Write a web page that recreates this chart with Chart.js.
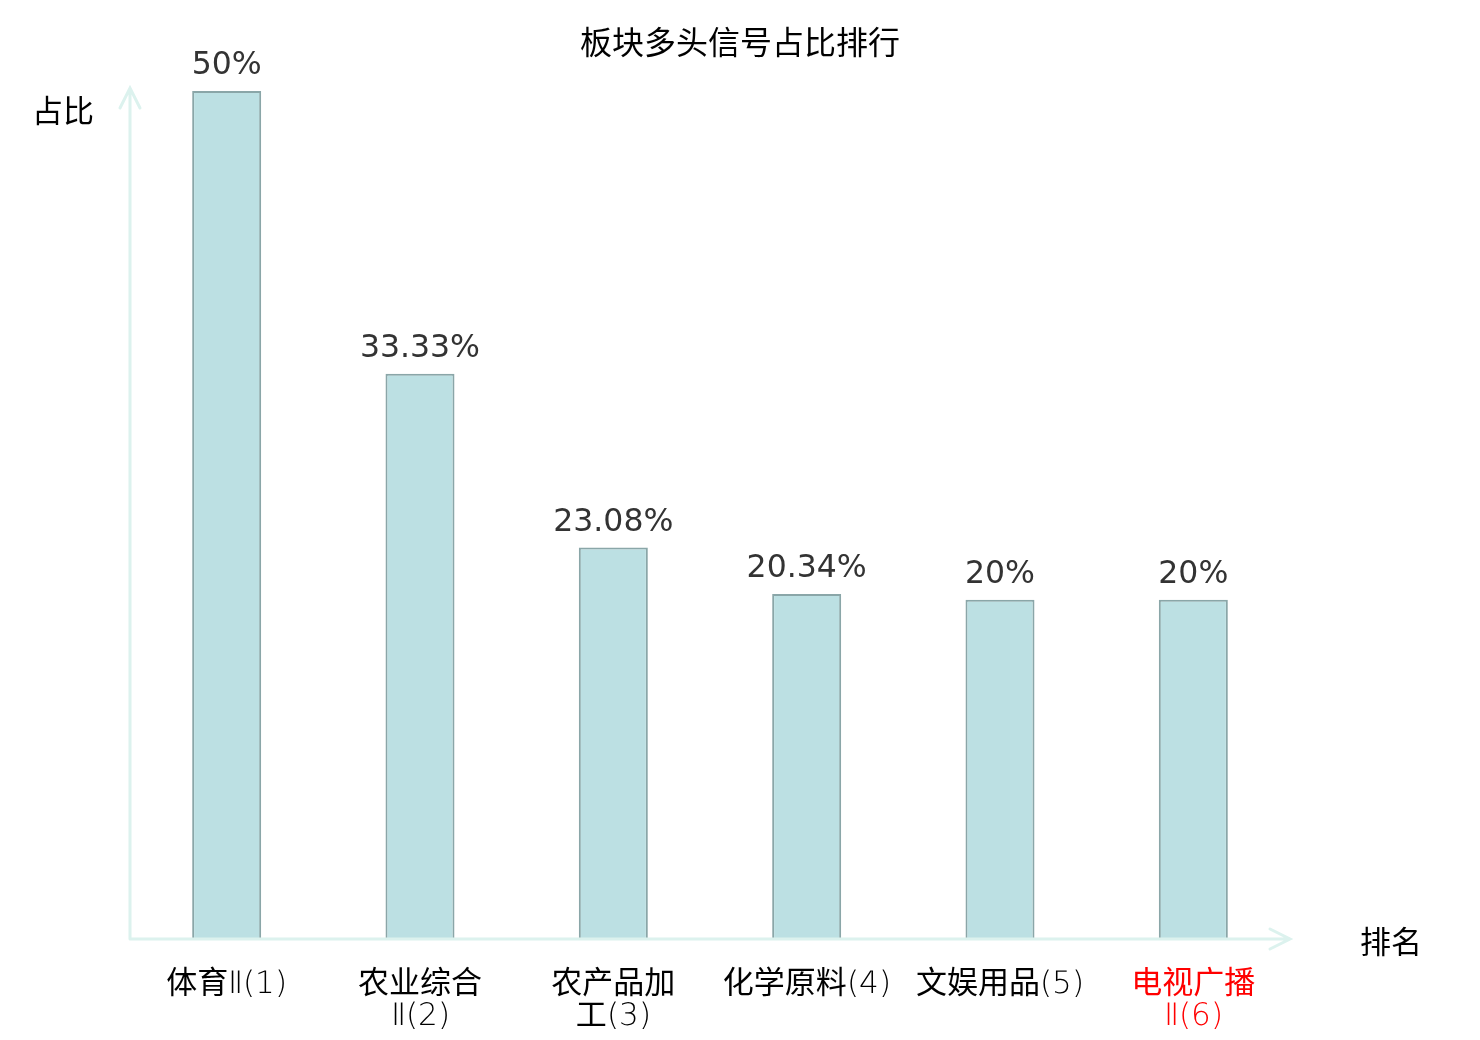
<!DOCTYPE html>
<html>
<head>
<meta charset="utf-8">
<script src="https://cdn.jsdelivr.net/npm/chart.js@4"></script>
<style>
  html, body { margin: 0; padding: 0; background: #fff; }
  #wrap { width: 1480px; height: 1040px; }
  @font-face {
    font-family: "TickLatin";
    src: local("DejaVu Sans ExtraLight"), local("DejaVuSans-ExtraLight");
    unicode-range: U+0000-00FF, U+2160-2188;
  }
</style>
</head>
<body>
<div id="wrap"><canvas id="rankChart"></canvas></div>
<script>
// 板块多头信号占比排行
const categories = [
  ["体育Ⅱ(1)"],
  ["农业综合", "Ⅱ(2)"],
  ["农产品加", "工(3)"],
  ["化学原料(4)"],
  ["文娱用品(5)"],
  ["电视广播", "Ⅱ(6)"]
];
const ratios = [50, 33.33, 23.08, 20.34, 20, 20];
const valueLabels = ["50%", "33.33%", "23.08%", "20.34%", "20%", "20%"];
const highlightIndex = 5;

const cjk = '"Noto Sans CJK SC", "Noto Sans", sans-serif';
const tickFamily = '"TickLatin", "Noto Sans CJK SC", sans-serif';
const axisColor = '#dcf2ee';

// axis arrows, title, axis names and value labels
const decorations = {
  id: 'decorations',
  afterDatasetsDraw(chart) {
    const { ctx, chartArea: a } = chart;
    ctx.save();

    ctx.strokeStyle = axisColor;
    ctx.lineWidth = 3;
    ctx.lineCap = 'round';
    ctx.beginPath();
    ctx.moveTo(a.left, a.bottom);
    ctx.lineTo(a.left, a.top - 3);
    ctx.moveTo(a.left - 10, a.top + 17);
    ctx.lineTo(a.left, a.top - 3);
    ctx.lineTo(a.left + 10, a.top + 17);
    ctx.moveTo(a.left, a.bottom);
    ctx.lineTo(a.right, a.bottom);
    ctx.moveTo(a.right - 20, a.bottom - 10);
    ctx.lineTo(a.right, a.bottom);
    ctx.lineTo(a.right - 20, a.bottom + 10);
    ctx.stroke();

    ctx.fillStyle = '#000';
    ctx.textAlign = 'center';
    ctx.textBaseline = 'middle';
    ctx.font = '32px ' + cjk;
    ctx.fillText('板块多头信号占比排行', 740, 42);
    ctx.font = '31px ' + cjk;
    ctx.fillText('占比', 63, 110);
    ctx.fillText('排名', 1391, 941);

    const meta = chart.getDatasetMeta(0);
    ctx.fillStyle = '#333';
    ctx.font = '31.5px "DejaVu Sans", sans-serif';
    ctx.textBaseline = 'alphabetic';
    meta.data.forEach((bar, i) => {
      ctx.fillText(valueLabels[i], bar.x, bar.y - 17);
    });
    ctx.restore();
  }
};

function drawChart() {
  new Chart(document.getElementById('rankChart'), {
    type: 'bar',
    data: {
      labels: categories,
      datasets: [{
        data: ratios,
        backgroundColor: '#bce0e3',
        borderColor: '#8aa6a8',
        borderWidth: 2,
        barPercentage: 0.357,
        categoryPercentage: 1
      }]
    },
    options: {
      responsive: true,
      maintainAspectRatio: false,
      animation: false,
      devicePixelRatio: 1,
      layout: { padding: { left: 130, right: 190, top: 91, bottom: 0 } },
      plugins: {
        legend: { display: false },
        tooltip: { enabled: false }
      },
      scales: {
        x: {
          grid: { display: false },
          border: { display: false },
          afterFit: s => { s.height = 101; },
          ticks: {
            padding: 22,
            maxRotation: 0,
            autoSkip: false,
            color: ctx => ctx.index === highlightIndex ? '#ff0000' : '#000',
            font: { family: tickFamily, size: 31, lineHeight: 1.03 }
          }
        },
        y: {
          display: false,
          min: 0,
          max: 50
        }
      }
    },
    plugins: [decorations]
  });
}

document.fonts.load('31px "TickLatin"', 'Ⅱ(1)').then(drawChart, drawChart);
</script>
</body>
</html>
